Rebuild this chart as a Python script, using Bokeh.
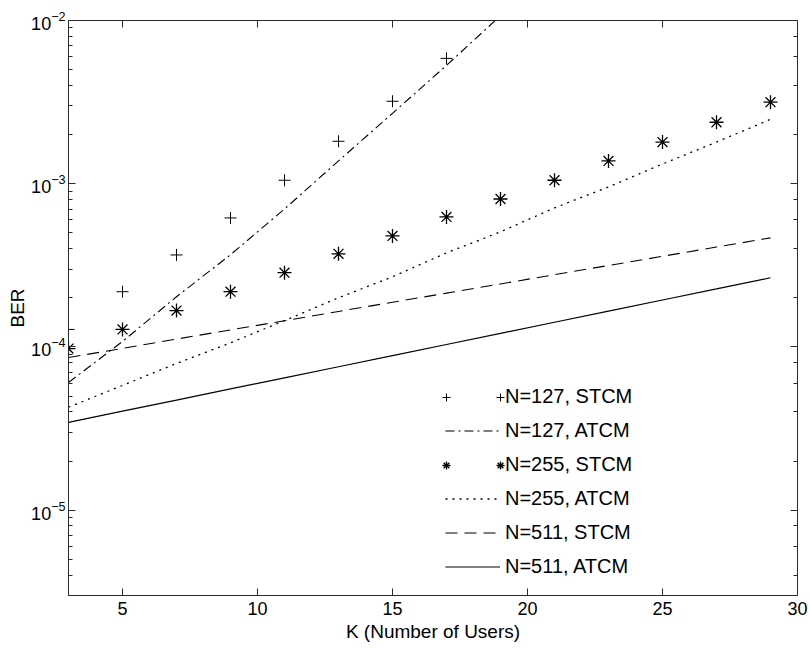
from bokeh.plotting import figure
from bokeh.models import (Range1d, FixedTicker, LinearAxis, LogAxis, Legend,
                          LegendItem, CustomJSTickFormatter, LogTicker)
from bokeh.embed import file_html
from bokeh.resources import INLINE

# ---- data ----
k_odd = [3, 5, 7, 9, 11, 13, 15, 17, 19, 21, 23, 25, 27, 29]
k_127_stcm = [3, 5, 7, 9, 11, 13, 15, 17]
ber_127_stcm = [1.28e-4, 2.18e-4, 3.66e-4, 6.17e-4, 1.05e-3, 1.82e-3, 3.20e-3, 5.86e-3]
k_127_atcm = [3, 5, 7, 9, 11, 13, 15, 17, 19]
ber_127_atcm = [6.06e-5, 1.08e-4, 2.03e-4, 3.67e-4, 7.0e-4, 1.38e-3, 2.70e-3, 5.31e-3, 1.07e-2]
ber_255_stcm = [9.77e-5, 1.28e-4, 1.67e-4, 2.18e-4, 2.85e-4, 3.72e-4, 4.79e-4,
                6.26e-4, 8.06e-4, 1.05e-3, 1.38e-3, 1.80e-3, 2.38e-3, 3.16e-3]
ber_255_atcm = [4.27e-5, 5.81e-5, 7.92e-5, 1.06e-4, 1.45e-4, 2.00e-4, 2.69e-4,
                3.77e-4, 5.07e-4, 7.11e-4, 9.55e-4, 1.32e-3, 1.80e-3, 2.48e-3]
ber_511_stcm = [8.61e-5, 9.80e-5, 1.117e-4, 1.272e-4, 1.447e-4, 1.650e-4, 1.878e-4,
                2.137e-4, 2.432e-4, 2.772e-4, 3.155e-4, 3.591e-4, 4.092e-4, 4.659e-4]
ber_511_atcm = [3.45e-5, 4.04e-5, 4.72e-5, 5.53e-5, 6.47e-5, 7.56e-5, 8.85e-5,
                1.035e-4, 1.21e-4, 1.416e-4, 1.657e-4, 1.938e-4, 2.267e-4, 2.653e-4]
x_ticks = [5, 10, 15, 20, 25, 30]
legend_labels = ["N=127, STCM", "N=127, ATCM", "N=255, STCM",
                 "N=255, ATCM", "N=511, STCM", "N=511, ATCM"]

FONT = "Liberation Sans"
INK = "black"
AX = "#2a2a2a"

p = figure(width=810, height=648, x_range=Range1d(3, 30), y_range=Range1d(3e-6, 1e-2),
           y_axis_type="log", output_backend="svg", toolbar_location=None,
           min_border_left=68, min_border_right=13, min_border_top=20, min_border_bottom=53)
p.grid.visible = False
p.outline_line_color = None
p.background_fill_color = "white"
p.border_fill_color = "white"

r1 = p.scatter(k_127_stcm, ber_127_stcm, marker="cross", size=12, line_color=INK, line_width=1)
r2 = p.line(k_127_atcm, ber_127_atcm, line_color=INK, line_width=1.1, line_dash="9 4 2 4")
r3 = p.scatter(k_odd, ber_255_stcm, marker="asterisk", size=14, line_color=INK, line_width=1.3)
r4 = p.line(k_odd, ber_255_atcm, line_color=INK, line_width=1.3, line_dash="2 5")
r5 = p.line(k_odd, ber_511_stcm, line_color=INK, line_width=1.1, line_dash="12 7")
r6 = p.line(k_odd, ber_511_atcm, line_color=INK, line_width=1.2)
# empty stand-ins so the marker rows of the main legend show no centred glyph
blank_plus = p.scatter(x=[], y=[], marker="cross", line_alpha=0, fill_alpha=0)
blank_star = p.scatter(x=[], y=[], marker="asterisk", line_alpha=0, fill_alpha=0)

# bottom / left axes
for ax in (p.xaxis[0], p.yaxis[0]):
    ax.axis_line_color = AX
    ax.major_tick_line_color = AX
    ax.minor_tick_line_color = AX
    ax.major_tick_in = 7
    ax.major_tick_out = 0
    ax.minor_tick_in = 4
    ax.minor_tick_out = 0
    ax.major_label_text_font = FONT
    ax.major_label_text_font_size = "18px"
    ax.major_label_text_color = INK
    ax.axis_label_text_font = FONT
    ax.axis_label_text_font_size = "19px"
    ax.axis_label_text_font_style = "normal"
    ax.axis_label_text_color = INK

p.xaxis[0].ticker = FixedTicker(ticks=x_ticks)
p.xaxis[0].minor_tick_line_color = None
p.xaxis[0].axis_label = "K (Number of Users)"
p.xaxis[0].major_label_standoff = 6
p.xaxis[0].axis_label_standoff = 3
p.yaxis[0].axis_label = "BER"
p.yaxis[0].major_label_standoff = 3
p.yaxis[0].axis_label_standoff = 0

blank = CustomJSTickFormatter(code="return ''")
top = LinearAxis(ticker=FixedTicker(ticks=x_ticks), formatter=blank,
                 major_tick_in=7, major_tick_out=0, minor_tick_line_color=None,
                 major_label_standoff=0, axis_line_color=AX, major_tick_line_color=AX,
                 major_label_text_font_size="1px")
p.add_layout(top, "above")
right = LogAxis(ticker=LogTicker(), formatter=blank,
                major_tick_in=7, major_tick_out=0, minor_tick_in=4, minor_tick_out=0,
                major_label_standoff=0, axis_line_color=AX, major_tick_line_color=AX,
                minor_tick_line_color=AX, major_label_text_font_size="1px")
p.add_layout(right, "right")

common = dict(border_line_color=None, background_fill_alpha=0, padding=0, margin=0,
              label_text_font=FONT, label_text_font_size="20px", label_text_color=INK)

main_renderers = [blank_plus, r2, blank_star, r4, r5, r6]
legend = Legend(items=[LegendItem(label=lab, renderers=[r]) for lab, r in
                       zip(legend_labels, main_renderers)],
                location=(377, 17), spacing=11, label_height=23, glyph_height=23,
                glyph_width=55, label_standoff=5, **common)
p.add_layout(legend)

# the two marker samples at both ends of the marker rows
for x_off in (368, 422):
    lg = Legend(items=[LegendItem(label=" ", renderers=[r1]),
                       LegendItem(label=" ", renderers=[r3])],
                location=(x_off, 120), spacing=48, label_height=20, glyph_height=20,
                glyph_width=20, label_standoff=0, label_width=1, **common)
    p.add_layout(lg)

open("out.html", "w").write(file_html(p, INLINE))
